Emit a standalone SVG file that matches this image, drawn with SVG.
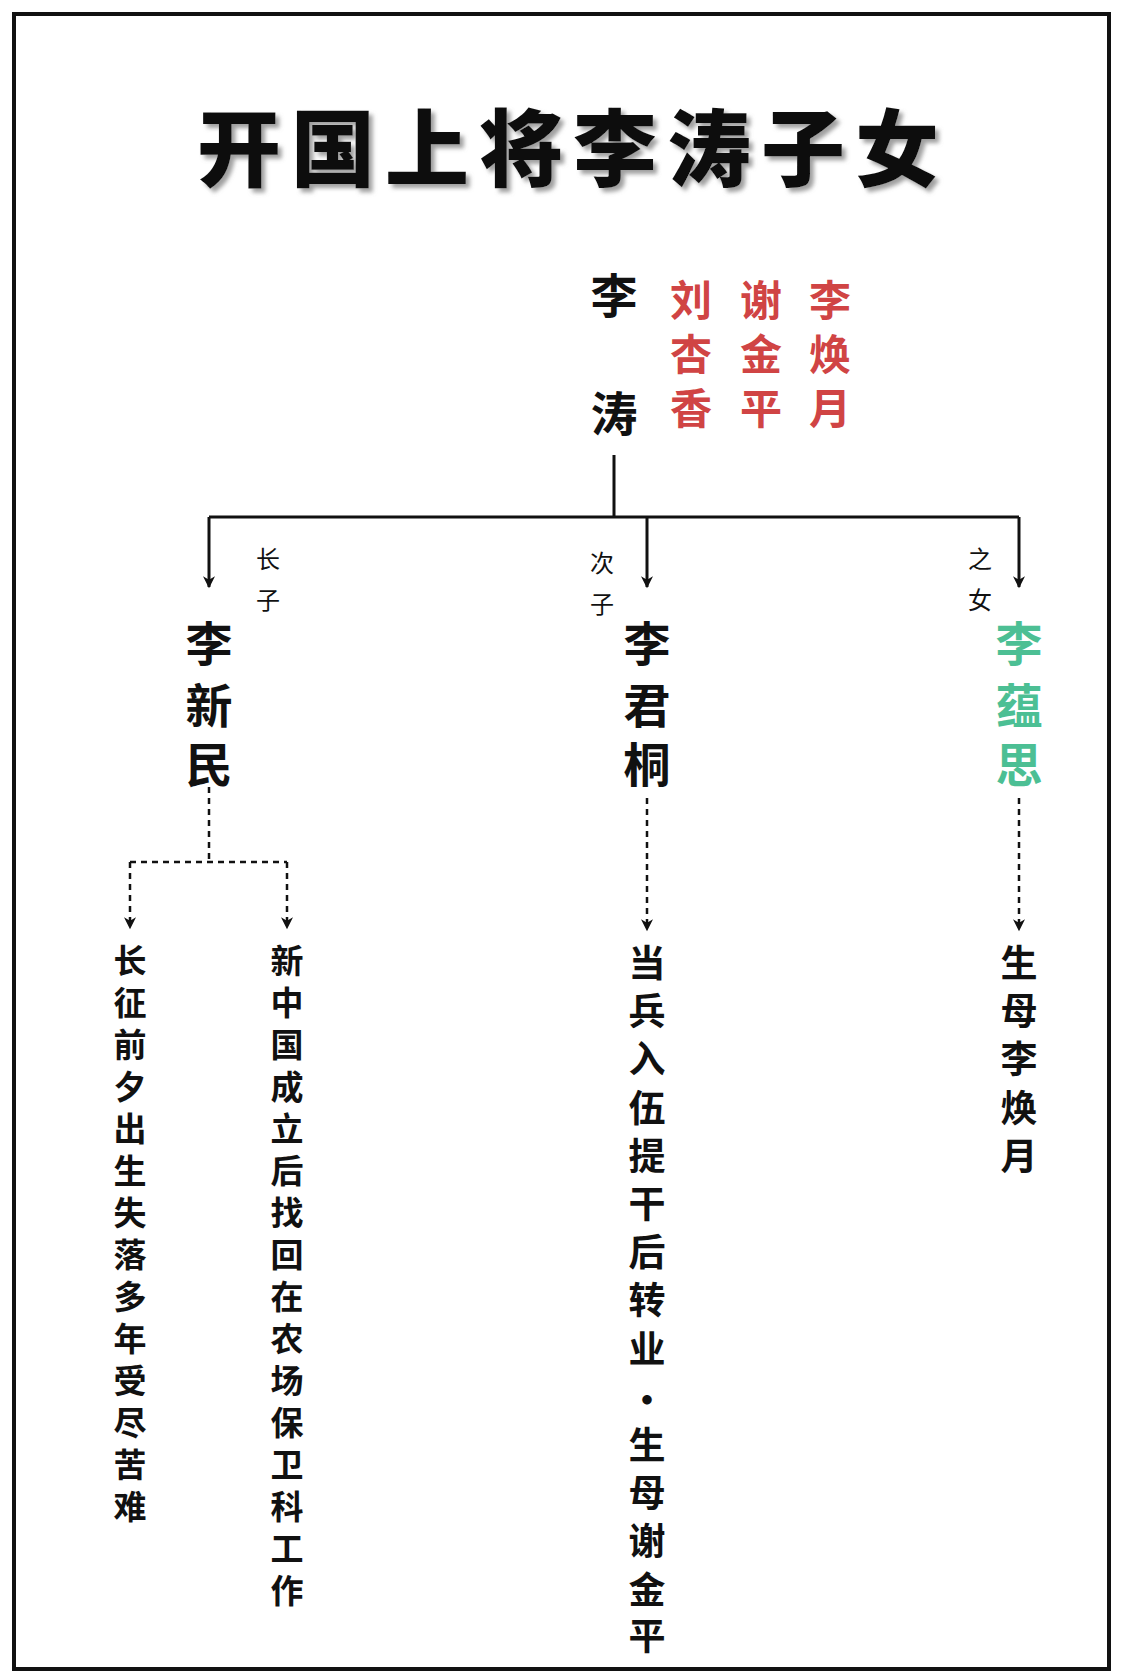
<svg xmlns="http://www.w3.org/2000/svg" width="1125" height="1678" viewBox="0 0 1125 1678">
<defs>
<style>
text{font-family:"Noto Sans CJK SC","Noto Sans",sans-serif;font-weight:700;text-anchor:middle;dominant-baseline:central}
.title{font-size:84px;font-weight:900;fill:#111}
.nm{font-size:47px;fill:#111}
.red{font-size:42px;fill:#d04444}
.sm{font-size:24px;font-weight:400;fill:#111}
.ds{font-size:33px;fill:#111}
.dl{font-size:37px;fill:#111}
.solid{stroke:#111;stroke-width:3;fill:none}
.dash{stroke:#111;stroke-width:2.5;fill:none;stroke-dasharray:6 5}
</style>
<filter id="shadow" x="-5%" y="-20%" width="110%" height="140%"><feDropShadow dx="4" dy="4" stdDeviation="2" flood-color="#888" flood-opacity="0.8"/></filter>
<marker id="ar2" viewBox="0 0 10 10" refX="5" refY="9" markerWidth="12" markerHeight="16" orient="0" markerUnits="userSpaceOnUse"><path d="M0,0 L5,10 L10,0 L5,3 z" fill="#111"/></marker>
</defs>
<rect width="1125" height="1678" fill="#fff"/>
<rect x="14" y="14" width="1095" height="1655" fill="none" stroke="#111" stroke-width="4"/>
<g id="title">
<text class="title" x="573" y="143" letter-spacing="10" filter="url(#shadow)">开国上将李涛子女</text>
</g>
<g id="litao">
<text class="nm" x="614" y="292">李</text><text class="nm" x="614" y="410">涛</text>
</g>
<g id="wives">
<text class="red" x="691" y="297">刘</text><text class="red" x="691" y="351">杏</text><text class="red" x="691" y="405">香</text>
<text class="red" x="761" y="297">谢</text><text class="red" x="761" y="351">金</text><text class="red" x="761" y="405">平</text>
<text class="red" x="830" y="297">李</text><text class="red" x="830" y="351">焕</text><text class="red" x="830" y="405">月</text>
</g>
<g id="connectors">
<path class="solid" d="M614,455 V517 M209,517 H1019"/>
<path class="solid" d="M209,517 V587" marker-end="url(#ar2)"/>
<path class="solid" d="M647,517 V587" marker-end="url(#ar2)"/>
<path class="solid" d="M1019,517 V587" marker-end="url(#ar2)"/>
<path class="dash" d="M209,787 V862 M130,862 H287"/>
<path class="dash" d="M130,862 V928" marker-end="url(#ar2)"/>
<path class="dash" d="M287,862 V928" marker-end="url(#ar2)"/>
<path class="dash" d="M647,798 V930" marker-end="url(#ar2)"/>
<path class="dash" d="M1019,798 V930" marker-end="url(#ar2)"/>
</g>
<g id="labels">
<text class="sm" x="268" y="557">长</text><text class="sm" x="268" y="598">子</text>
<text class="sm" x="602" y="561">次</text><text class="sm" x="602" y="602">子</text>
<text class="sm" x="980" y="557">之</text><text class="sm" x="980" y="598">女</text>
</g>
<g id="lixinmin"><text class="nm" x="209" y="640">李</text><text class="nm" x="209" y="702">新</text><text class="nm" x="209" y="761">民</text></g>
<g id="lijuntong"><text class="nm" x="647" y="640">李</text><text class="nm" x="647" y="702">君</text><text class="nm" x="647" y="761">桐</text></g>
<g id="liyunsi"><text class="nm" x="1019" y="640" style="fill:#4cbf94">李</text><text class="nm" x="1019" y="702" style="fill:#4cbf94">蕴</text><text class="nm" x="1019" y="761" style="fill:#4cbf94">思</text></g>
<g id="desc1"><text class="ds" x="130"><tspan x="130" y="959">长</tspan><tspan x="130" y="1001">征</tspan><tspan x="130" y="1043">前</tspan><tspan x="130" y="1085">夕</tspan><tspan x="130" y="1127">出</tspan><tspan x="130" y="1169">生</tspan><tspan x="130" y="1211">失</tspan><tspan x="130" y="1253">落</tspan><tspan x="130" y="1295">多</tspan><tspan x="130" y="1337">年</tspan><tspan x="130" y="1379">受</tspan><tspan x="130" y="1421">尽</tspan><tspan x="130" y="1463">苦</tspan><tspan x="130" y="1505">难</tspan></text></g>
<g id="desc2"><text class="ds" x="287"><tspan x="287" y="959">新</tspan><tspan x="287" y="1001">中</tspan><tspan x="287" y="1043">国</tspan><tspan x="287" y="1085">成</tspan><tspan x="287" y="1127">立</tspan><tspan x="287" y="1169">后</tspan><tspan x="287" y="1211">找</tspan><tspan x="287" y="1253">回</tspan><tspan x="287" y="1295">在</tspan><tspan x="287" y="1337">农</tspan><tspan x="287" y="1379">场</tspan><tspan x="287" y="1421">保</tspan><tspan x="287" y="1463">卫</tspan><tspan x="287" y="1505">科</tspan><tspan x="287" y="1547">工</tspan><tspan x="287" y="1589">作</tspan></text></g>
<g id="desc3"><text class="dl" x="647"><tspan x="647" y="961">当</tspan><tspan x="647" y="1009">兵</tspan><tspan x="647" y="1057">入</tspan><tspan x="647" y="1106">伍</tspan><tspan x="647" y="1154">提</tspan><tspan x="647" y="1202">干</tspan><tspan x="647" y="1250">后</tspan><tspan x="647" y="1298">转</tspan><tspan x="647" y="1347">业</tspan><tspan x="647" y="1398">·</tspan><tspan x="647" y="1443">生</tspan><tspan x="647" y="1491">母</tspan><tspan x="647" y="1539">谢</tspan><tspan x="647" y="1588">金</tspan><tspan x="647" y="1634">平</tspan></text></g>
<g id="desc4"><text class="dl" x="1019"><tspan x="1019" y="961">生</tspan><tspan x="1019" y="1009">母</tspan><tspan x="1019" y="1057">李</tspan><tspan x="1019" y="1106">焕</tspan><tspan x="1019" y="1154">月</tspan></text></g>
</svg>
